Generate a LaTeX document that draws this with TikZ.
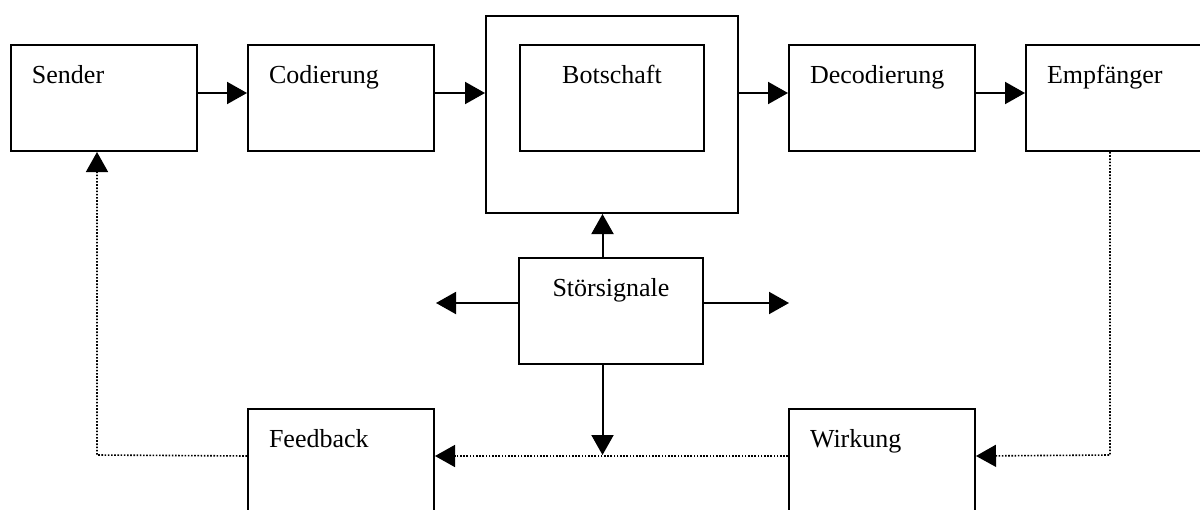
\documentclass[tikz,border=0pt]{standalone}
\usepackage{fontspec}
\setmainfont{Liberation Serif}
\usetikzlibrary{arrows.meta}

\begin{document}
\begin{tikzpicture}[x=0.5pt,y=-0.5pt,
  kasten/.style={draw,line width=1pt,anchor=north west,inner xsep=10.5pt,inner ysep=0pt,
    text width=72pt,align=left,text height=19pt,text depth=34pt,
    font=\fontsize{13pt}{15pt}\selectfont},
  mitte/.style={kasten,align=center,text width=71pt},
  flow/.style={line width=1pt,-{Triangle[length=10pt,width=11pt]}},
  rueckflow/.style={line width=0.8pt,dash pattern=on 0.8pt off 0.8pt,-{Triangle[length=10pt,width=11pt]}}]
\useasboundingbox (0,0) rectangle (1200,509);
\clip (0,0) rectangle (1200,509);
\node[kasten] (sender) at (10,44) {Sender};
\node[kasten] (codierung) at (247,44) {Codierung};
\node[draw,line width=1pt,anchor=north west,minimum width=126pt,minimum height=98.5pt,inner sep=0pt] (rahmen) at (485,15) {};
\node[mitte] (botschaft) at (519,44) {Botschaft};
\node[kasten] (decodierung) at (788,44) {Decodierung};
\node[kasten] (empfaenger) at (1025,44) {Empfänger};
\node[mitte] (stoer) at (518,257) {Störsignale};
\node[kasten] (feedback) at (247,408) {Feedback};
\node[kasten] (wirkung) at (788,408) {Wirkung};
\coordinate (links) at (436,303);
\coordinate (rechts) at (789,303);
\coordinate (ecke1) at (1110,455);
\coordinate (ecke2) at (97,455);
% obere Kette
\draw[flow] ([yshift=2.5pt]sender.east) -- ([yshift=2.5pt]codierung.west);
\draw[flow] ([yshift=2.5pt]codierung.east) -- ([yshift=2.5pt]codierung.east -| rahmen.west);
\draw[flow] ([yshift=2.5pt]decodierung.west -| rahmen.east) -- ([yshift=2.5pt]decodierung.west);
\draw[flow] ([yshift=2.5pt]decodierung.east) -- ([yshift=2.5pt]empfaenger.west);
% Stoersignale
\draw[flow] ([xshift=-4.25pt]stoer.north) -- ([xshift=-4.25pt]stoer.north |- rahmen.south);
\draw[flow] (stoer.west |- links) -- (links);
\draw[flow] (stoer.east |- rechts) -- (rechts);
\draw[flow] ([xshift=-4.25pt]stoer.south) -- ([xshift=-4.25pt]stoer.south |- ecke1);
% Rueckkopplung
\draw[rueckflow] (empfaenger.south -| ecke1) -- (ecke1) -- ([yshift=3pt]wirkung.east);
\draw[rueckflow] ([yshift=3pt]wirkung.west) -- ([yshift=3pt]feedback.east);
\draw[rueckflow] ([yshift=3pt]feedback.west) -- (ecke2) -- (sender.south -| ecke2);
\end{tikzpicture}
\end{document}
